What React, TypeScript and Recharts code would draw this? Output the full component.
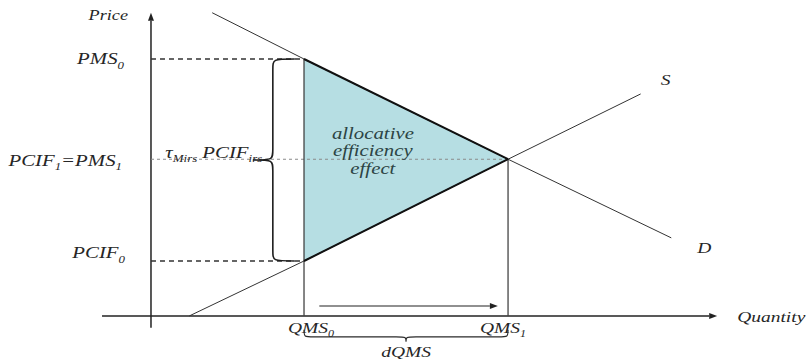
import React from 'react';
import { ComposedChart, XAxis, YAxis, Line, Area, ReferenceLine, ReferenceDot } from 'recharts';

const W = 809;
const H = 359;

// quantities: QMS0, QMS1
const qms = [3, 7];
const qmsLabels = ['0', '1'];
// prices: PCIF0, PCIF1 = PMS1, PMS0
const prices = [1.07, 3.05, 5];

// demand curve D
const demandQ = [1.2, 3, 7, 10.2];
const demandP = [5.9, 5, 3.05, 1.52];
// supply curve S
const supplyQ = [0.75, 3, 7, 9.6];
const supplyP = [0, 1.07, 3.05, 4.32];

// axis extents
const qAxis = [-0.96, 11.1];
const pAxis = [-0.23, 5.9];
// arrow showing the change in quantity
const dqArrowQ = [3.3, 6.8];
const dqArrowP = 0.195;

const demandData = demandQ.map((q, i) => ({ q, p: demandP[i] }));
const supplyData = supplyQ.map((q, i) => ({ q, p: supplyP[i] }));
const triangleData = [
  { q: qms[0], band: [prices[0], prices[2]] },
  { q: qms[1], band: [prices[1], prices[1]] },
];

const INK = '#262626';
const FONT = '"Liberation Serif", "DejaVu Serif", serif';
const STRETCH = 1.3;

type Part = [string, boolean];

function Tex({ cx, cy, parts, anchor = 'start', size = 15, dx = 0, dy = 0, color = INK }: any) {
  let shifted = false;
  return (
    <g transform={`translate(${cx + dx},${cy + dy + size * 0.33}) scale(${STRETCH},1)`}>
      <text
        textAnchor={anchor}
        style={{ fontFamily: FONT, fontStyle: 'italic', fontSize: size }}
        fill={color}
      >
        {(parts as Part[]).map(([t, sub], i) => {
          let d = 0;
          if (sub && !shifted) { d = size * 0.28; shifted = true; }
          if (!sub && shifted) { d = -size * 0.28; shifted = false; }
          return (
            <tspan key={i} dy={d} style={{ fontSize: sub ? size * 0.62 : size }}>{t}</tspan>
          );
        })}
      </text>
    </g>
  );
}

const label = (parts: Part[], opts: any = {}) => (p: any) => <Tex cx={p.cx} cy={p.cy} parts={parts} {...opts} />;

const arrow = (width: number, color: string) => (p: any) => {
  const { x1, y1, x2, y2 } = p;
  const len = Math.hypot(x2 - x1, y2 - y1) || 1;
  const ux = (x2 - x1) / len;
  const uy = (y2 - y1) / len;
  const hl = 8;
  const hw = 3;
  const bx = x2 - ux * hl;
  const by = y2 - uy * hl;
  return (
    <g>
      <line x1={x1} y1={y1} x2={bx} y2={by} stroke={color} strokeWidth={width} />
      <polygon
        points={`${x2},${y2} ${bx - uy * hw},${by + ux * hw} ${bx + uy * hw},${by - ux * hw}`}
        fill={color}
      />
    </g>
  );
};

const vBrace = (p: any) => {
  const x0 = p.x1;
  const yt = Math.min(p.y1, p.y2);
  const yb = Math.max(p.y1, p.y2);
  const ym = (yt + yb) / 2;
  const w = 22;
  const d = 42;
  const r = 11;
  const xs = x0 - w;
  const path = `M${x0},${yt} C${xs},${yt} ${xs},${yt} ${xs},${yt + r} L${xs},${ym - r} C${xs},${ym} ${xs},${ym} ${x0 - d},${ym} C${xs},${ym} ${xs},${ym} ${xs},${ym + r} L${xs},${yb - r} C${xs},${yb} ${xs},${yb} ${x0},${yb}`;
  return <path d={path} fill="none" stroke="#1e1e1e" strokeWidth={1.6} />;
};

const hBrace = (p: any) => {
  const y0 = p.y1;
  const xa = Math.min(p.x1, p.x2);
  const xb = Math.max(p.x1, p.x2);
  const xm = (xa + xb) / 2;
  const w = 7;
  const d = 12;
  const r = 10;
  const ys = y0 + w;
  const path = `M${xa},${y0} C${xa},${ys} ${xa},${ys} ${xa + r},${ys} L${xm - r},${ys} C${xm},${ys} ${xm},${ys} ${xm},${y0 + d} C${xm},${ys} ${xm},${ys} ${xm + r},${ys} L${xb - r},${ys} C${xb},${ys} ${xb},${ys} ${xb},${y0}`;
  return <path d={path} fill="none" stroke="#2a2a2a" strokeWidth={1.1} />;
};

export default function App() {
  return (
    <div style={{ position: 'absolute', left: 0, top: 0, width: W, height: H, background: '#fff' }}>
      <ComposedChart width={W} height={H} margin={{ top: 0, right: 0, bottom: 0, left: 0 }}>
        <XAxis type="number" dataKey="q" domain={[-2.96, 12.9]} allowDataOverflow hide />
        <YAxis type="number" domain={[-0.837, 6.148]} allowDataOverflow hide />

        <Area
          data={triangleData}
          dataKey="band"
          type="linear"
          fill="#b6dee3"
          fillOpacity={1}
          stroke="none"
          dot={false}
          activeDot={false}
          isAnimationActive={false}
        />

        {/* axes */}
        <ReferenceLine segment={[{ x: qAxis[0], y: 0 }, { x: qAxis[1], y: 0 }]} shape={arrow(1.5, '#222')} />
        <ReferenceLine segment={[{ x: 0, y: pAxis[0] }, { x: 0, y: pAxis[1] }]} shape={arrow(1.5, '#222')} />

        {/* price levels */}
        <ReferenceLine segment={[{ x: 0, y: prices[2] }, { x: qms[0], y: prices[2] }]} stroke="#333" strokeWidth={1.3} strokeDasharray="5 4" />
        <ReferenceLine segment={[{ x: 0, y: prices[1] }, { x: qms[1], y: prices[1] }]} stroke="#8a8a8a" strokeWidth={1.1} strokeDasharray="3 3" />
        <ReferenceLine segment={[{ x: 0, y: prices[0] }, { x: qms[0], y: prices[0] }]} stroke="#333" strokeWidth={1.3} strokeDasharray="5 4" />

        {/* quantity levels */}
        <ReferenceLine segment={[{ x: qms[0], y: 0 }, { x: qms[0], y: prices[2] }]} stroke="#444" strokeWidth={1.3} />
        <ReferenceLine segment={[{ x: qms[1], y: 0 }, { x: qms[1], y: prices[1] }]} stroke="#444" strokeWidth={1.3} />

        <Line data={demandData} dataKey="p" type="linear" stroke="#333" strokeWidth={1} dot={false} activeDot={false} isAnimationActive={false} />
        <Line data={supplyData} dataKey="p" type="linear" stroke="#333" strokeWidth={1} dot={false} activeDot={false} isAnimationActive={false} />
        <Line data={demandData.slice(1, 3)} dataKey="p" type="linear" stroke="#111" strokeWidth={2} dot={false} activeDot={false} isAnimationActive={false} />
        <Line data={supplyData.slice(1, 3)} dataKey="p" type="linear" stroke="#111" strokeWidth={2} dot={false} activeDot={false} isAnimationActive={false} />

        {/* braces and the quantity arrow */}
        <ReferenceLine segment={[{ x: 2.82, y: prices[2] }, { x: 2.82, y: prices[0] }]} shape={vBrace} />
        <ReferenceLine segment={[{ x: qms[0], y: -0.27 }, { x: qms[1], y: -0.27 }]} shape={hBrace} />
        <ReferenceLine segment={[{ x: dqArrowQ[0], y: dqArrowP }, { x: dqArrowQ[1], y: dqArrowP }]} shape={arrow(1.1, '#222')} />

        {/* text */}
        <ReferenceDot x={0} y={pAxis[1]} r={0} shape={label([['Price', false]], { anchor: 'end', dx: -23, dy: 3, size: 14 })} />
        <ReferenceDot x={qAxis[1]} y={0} r={0} shape={label([['Quantity', false]], { dx: 20, dy: 1 })} />
        <ReferenceDot x={0} y={prices[2]} r={0} shape={label([['PMS', false], ['0', true]], { anchor: 'end', dx: -27, dy: 0, size: 16 })} />
        <ReferenceDot x={0} y={prices[1]} r={0} shape={label([['PCIF', false], ['1', true], ['=PMS', false], ['1', true]], { anchor: 'end', dx: -29, dy: 1, size: 16 })} />
        <ReferenceDot x={0} y={prices[0]} r={0} shape={label([['PCIF', false], ['0', true]], { anchor: 'end', dx: -26, dy: -8, size: 16 })} />
        {qms.map((q, i) => (
          <ReferenceDot key={q} x={q} y={0} r={0} shape={label([['QMS', false], [qmsLabels[i], true]], { anchor: 'middle', dx: i === 0 ? 7 : -5, dy: 12 })} />
        ))}
        <ReferenceDot x={(qms[0] + qms[1]) / 2} y={0} r={0} shape={label([['dQMS', false]], { anchor: 'middle', dy: 36 })} />
        <ReferenceDot x={supplyQ[3]} y={supplyP[3]} r={0} shape={label([['S', false]], { dx: 20, dy: -14 })} />
        <ReferenceDot x={demandQ[3]} y={demandP[3]} r={0} shape={label([['D', false]], { dx: 26, dy: 10 })} />
        <ReferenceDot x={2.18} y={prices[1]} r={0} shape={label([['τ', false], ['Mirs', true], [' PCIF', false], ['irs', true]], { anchor: 'end', dy: -7, size: 16 })} />
        <ReferenceDot x={4.35} y={prices[1]} r={0} shape={label([['allocative', false]], { anchor: 'middle', dy: -26, size: 16, color: '#2c4444' })} />
        <ReferenceDot x={4.35} y={prices[1]} r={0} shape={label([['efficiency', false]], { anchor: 'middle', dy: -9, size: 16, color: '#2c4444' })} />
        <ReferenceDot x={4.35} y={prices[1]} r={0} shape={label([['effect', false]], { anchor: 'middle', dy: 9, size: 16, color: '#2c4444' })} />
      </ComposedChart>
    </div>
  );
}
